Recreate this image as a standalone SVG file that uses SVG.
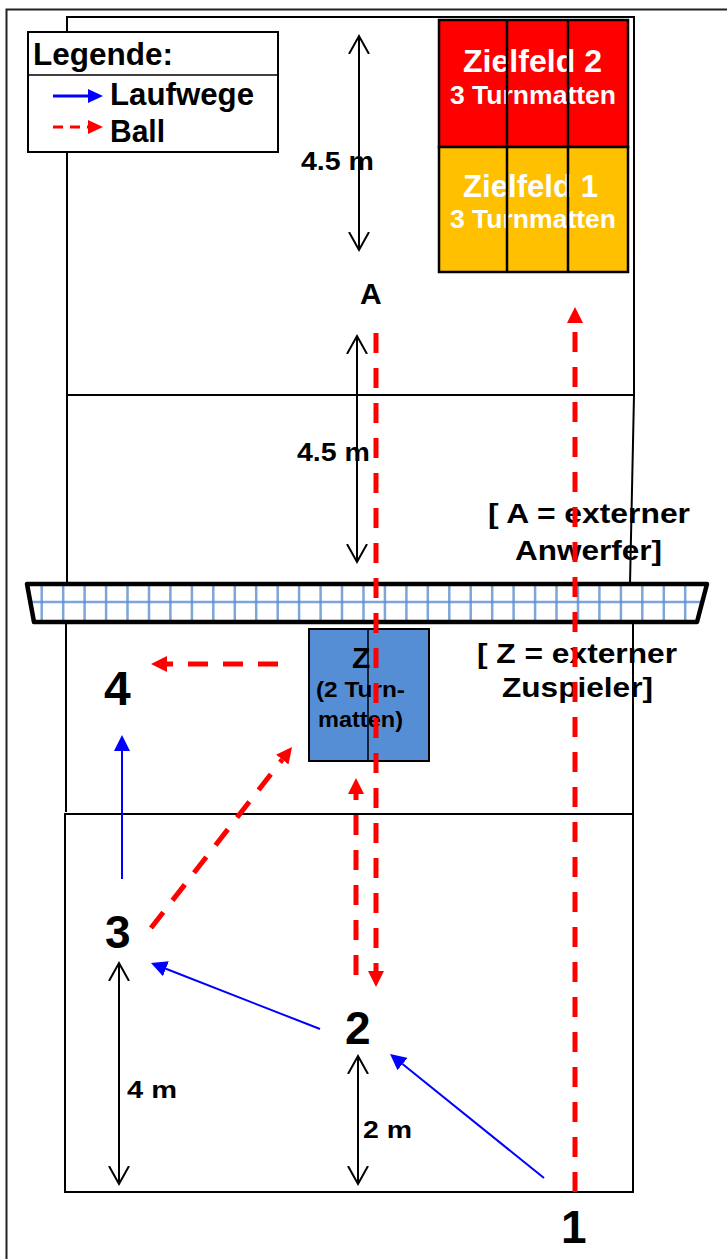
<svg xmlns="http://www.w3.org/2000/svg" width="727" height="1259" viewBox="0 0 727 1259">
<style>
text{font-family:"Liberation Sans",Arial,sans-serif;font-weight:bold;fill:#000}
.w{fill:#fff}
.court{fill:none;stroke:#000;stroke-width:2}
.mat{stroke:#000;stroke-width:2.5}
.dim{fill:none;stroke:#000;stroke-width:2;marker-start:url(#v);marker-end:url(#v)}
.run{fill:none;stroke:#0000FF;stroke-width:2;marker-end:url(#ab)}
.ball{fill:none;stroke:#FF0000;stroke-width:5;stroke-dasharray:20 15;marker-end:url(#ar)}
.grid{stroke:#5b8fd0;stroke-width:2.5;stroke-opacity:0.8}
</style>
<defs>
<marker id="v" markerUnits="userSpaceOnUse" markerWidth="22" markerHeight="24" refX="18" refY="11" orient="auto-start-reverse" viewBox="0 0 22 24">
<path d="M0,1 L18,11 L0,21" fill="none" stroke="#000" stroke-width="2"/>
</marker>
<marker id="ab" markerUnits="userSpaceOnUse" markerWidth="16" markerHeight="16" refX="0" refY="8" orient="auto" viewBox="0 0 16 16">
<path d="M0,0 L16,8 L0,16 z" fill="#0000FF"/>
</marker>
<marker id="ar" markerUnits="userSpaceOnUse" markerWidth="16" markerHeight="16" refX="0" refY="8" orient="auto" viewBox="0 0 16 16">
<path d="M0,0 L16,8 L0,16 z" fill="#FF0000"/>
</marker>
</defs>
<rect width="727" height="1259" fill="#fff"/>
<g id="frame">
<path d="M6.5,1259 L6.5,9.5 L727,9.5" fill="none" stroke="#222" stroke-width="2"/>
</g>
<g id="court">
<path class="court" d="M67,584 L67,17 L634,17 L634,395 L630,584"/>
<line class="court" x1="67" y1="395" x2="634" y2="395"/>
<path class="court" d="M66,622 L66,812"/>
<path class="court" d="M633,622 L633,814"/>
<rect class="court" x="65" y="814" width="568" height="378"/>
</g>
<g id="net">
<polygon points="27,584 707,584 697,622 34,622" fill="#fff"/>
<line class="grid" x1="30" y1="602" x2="704" y2="602"/>
<g class="grid">
<line x1="41.7" y1="586" x2="41.7" y2="620"/><line x1="63.2" y1="586" x2="63.2" y2="620"/><line x1="84.6" y1="586" x2="84.6" y2="620"/><line x1="106.1" y1="586" x2="106.1" y2="620"/><line x1="127.5" y1="586" x2="127.5" y2="620"/><line x1="149" y1="586" x2="149" y2="620"/><line x1="170.4" y1="586" x2="170.4" y2="620"/><line x1="191.9" y1="586" x2="191.9" y2="620"/><line x1="213.3" y1="586" x2="213.3" y2="620"/><line x1="234.8" y1="586" x2="234.8" y2="620"/><line x1="256.2" y1="586" x2="256.2" y2="620"/><line x1="277.7" y1="586" x2="277.7" y2="620"/><line x1="299.1" y1="586" x2="299.1" y2="620"/><line x1="320.6" y1="586" x2="320.6" y2="620"/><line x1="342" y1="586" x2="342" y2="620"/><line x1="363.5" y1="586" x2="363.5" y2="620"/><line x1="384.9" y1="586" x2="384.9" y2="620"/><line x1="406.4" y1="586" x2="406.4" y2="620"/><line x1="427.8" y1="586" x2="427.8" y2="620"/><line x1="449.3" y1="586" x2="449.3" y2="620"/><line x1="470.7" y1="586" x2="470.7" y2="620"/><line x1="492.2" y1="586" x2="492.2" y2="620"/><line x1="513.6" y1="586" x2="513.6" y2="620"/><line x1="535.1" y1="586" x2="535.1" y2="620"/><line x1="556.5" y1="586" x2="556.5" y2="620"/><line x1="578" y1="586" x2="578" y2="620"/><line x1="599.4" y1="586" x2="599.4" y2="620"/><line x1="620.9" y1="586" x2="620.9" y2="620"/><line x1="642.3" y1="586" x2="642.3" y2="620"/><line x1="663.8" y1="586" x2="663.8" y2="620"/><line x1="685.2" y1="586" x2="685.2" y2="620"/>
</g>
<polygon points="27,584 707,584 697,622 34,622" fill="none" stroke="#000" stroke-width="4.5" stroke-linejoin="round"/>
</g>
<g id="legend">
<rect x="28" y="32" width="250" height="120" fill="#fff" stroke="#000" stroke-width="2"/>
<line x1="28" y1="75" x2="278" y2="75" stroke="#000" stroke-width="1.5"/>
<text x="33" y="65" font-size="31" textLength="140" lengthAdjust="spacingAndGlyphs">Legende:</text>
<line x1="53" y1="96" x2="88" y2="96" stroke="#0000FF" stroke-width="3"/>
<path d="M88,89 L103,96 L88,103 z" fill="#0000FF"/>
<text x="110" y="105" font-size="31" textLength="144" lengthAdjust="spacingAndGlyphs">Laufwege</text>
<line x1="53" y1="127" x2="88" y2="127" stroke="#FF0000" stroke-width="3" stroke-dasharray="10 7"/>
<path d="M88,120 L103,127 L88,134 z" fill="#FF0000"/>
<text x="110" y="142" font-size="31" textLength="55" lengthAdjust="spacingAndGlyphs">Ball</text>
</g>
<g id="zielfeld2">
<rect class="mat" x="439" y="20" width="189" height="127" fill="#FF0000"/>
<text class="w" x="463" y="72" font-size="31" textLength="139" lengthAdjust="spacingAndGlyphs">Zielfeld 2</text>
<text class="w" x="450" y="104" font-size="25" textLength="166" lengthAdjust="spacingAndGlyphs">3 Turnmatten</text>
</g>
<g id="zielfeld1">
<rect class="mat" x="439" y="147" width="189" height="125" fill="#FFC000"/>
<text class="w" x="463" y="197" font-size="31" textLength="135" lengthAdjust="spacingAndGlyphs">Zielfeld 1</text>
<text class="w" x="450" y="228" font-size="25" textLength="166" lengthAdjust="spacingAndGlyphs">3 Turnmatten</text>
<line class="mat" x1="507" y1="20" x2="507" y2="272"/>
<line class="mat" x1="568" y1="20" x2="568" y2="272"/>
</g>
<g id="zuspieler">
<rect x="309" y="629" width="120" height="132" fill="#558ED5" stroke="#000" stroke-width="2"/>
<line x1="368" y1="629" x2="368" y2="761" stroke="#000" stroke-width="1.5"/>
<text x="352" y="668" font-size="30">Z</text>
<text x="316" y="697" font-size="22" textLength="89" lengthAdjust="spacingAndGlyphs">(2 Turn-</text>
<text x="318" y="727" font-size="22" textLength="85" lengthAdjust="spacingAndGlyphs">matten)</text>
</g>
<g id="anwerfer">
<text x="360" y="304" font-size="30">A</text>
</g>
<g id="info">
<text x="488" y="523" font-size="27" textLength="202" lengthAdjust="spacingAndGlyphs">[ A = externer</text>
<text x="515" y="560" font-size="27" textLength="147" lengthAdjust="spacingAndGlyphs">Anwerfer]</text>
<text x="477" y="663" font-size="27" textLength="200" lengthAdjust="spacingAndGlyphs">[ Z = externer</text>
<text x="502" y="697" font-size="27" textLength="151" lengthAdjust="spacingAndGlyphs">Zuspieler]</text>
</g>
<g id="pos1"><text x="561" y="1243" font-size="46">1</text></g>
<g id="pos2"><text x="345" y="1044" font-size="46">2</text></g>
<g id="pos3"><text x="105" y="948" font-size="46">3</text></g>
<g id="pos4"><text x="104" y="705" font-size="48">4</text></g>
<g id="dimensions">
<line class="dim" x1="359" y1="36" x2="359" y2="250"/>
<text x="301" y="170" font-size="25" textLength="73" lengthAdjust="spacingAndGlyphs">4.5 m</text>
<line class="dim" x1="357" y1="336" x2="357" y2="562"/>
<text x="297" y="461" font-size="25" textLength="73" lengthAdjust="spacingAndGlyphs">4.5 m</text>
<line class="dim" x1="119" y1="963" x2="119" y2="1184"/>
<text x="127" y="1098" font-size="23" textLength="50" lengthAdjust="spacingAndGlyphs">4 m</text>
<line class="dim" x1="358" y1="1056" x2="358" y2="1184"/>
<text x="363" y="1138" font-size="23" textLength="49" lengthAdjust="spacingAndGlyphs">2 m</text>
</g>
<g id="connectors">
<line class="run" x1="122" y1="879" x2="122" y2="751"/>
<line class="run" x1="320" y1="1029" x2="165.9" y2="968.8"/>
<line class="run" x1="544" y1="1178" x2="402.5" y2="1064"/>
<line class="ball" x1="376" y1="333" x2="376" y2="971"/>
<line class="ball" x1="356" y1="975" x2="356" y2="794"/>
<line class="ball" x1="575" y1="1192" x2="575" y2="323"/>
<line class="ball" x1="151" y1="928" x2="282.2" y2="759.6"/>
<line class="ball" x1="278" y1="664" x2="167" y2="664"/>
</g>
</svg>
